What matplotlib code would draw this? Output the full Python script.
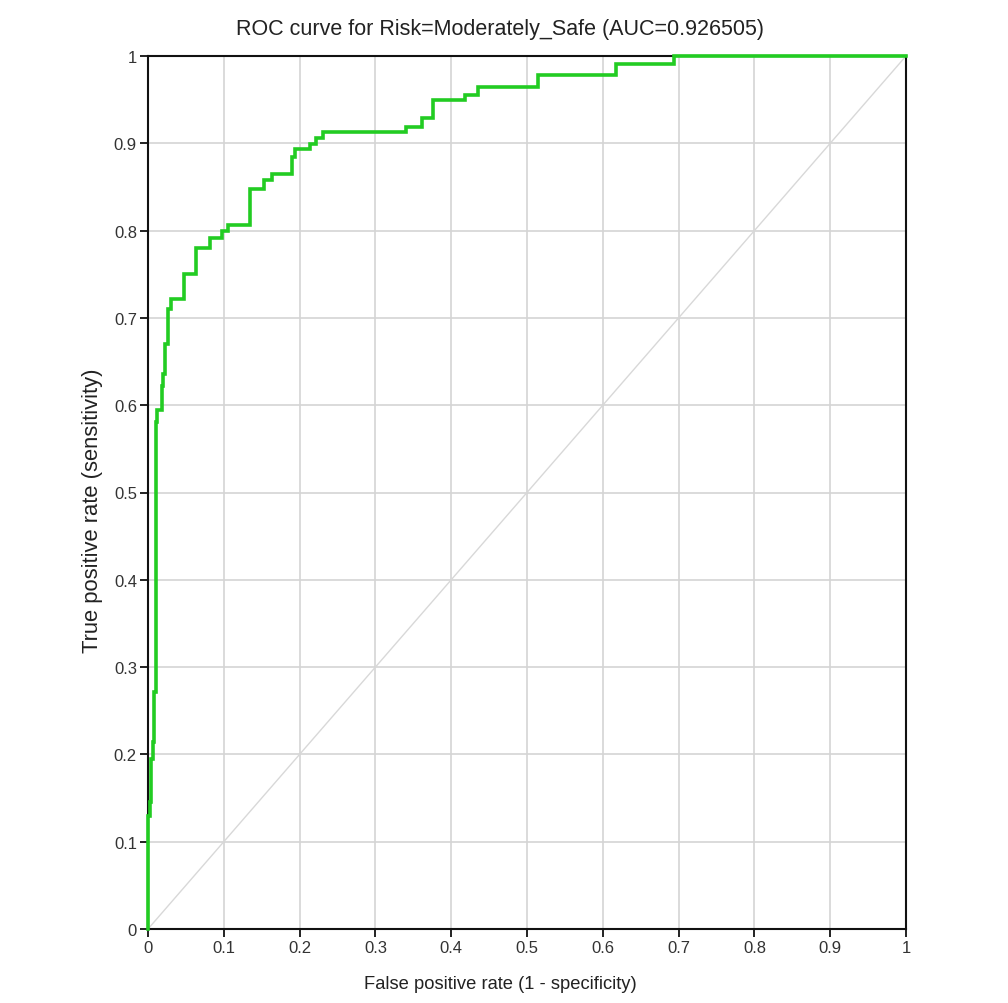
import matplotlib
matplotlib.use("Agg")
import matplotlib.pyplot as plt

plt.rcParams['font.family'] = ['Liberation Sans', 'DejaVu Sans']

# ROC step points (steps-post): false positive rate and true positive rate
fpr = [0, 0, 0.002, 0.004, 0.006, 0.008, 0.010, 0.012, 0.018, 0.020, 0.023, 0.027, 0.031,
       0.048, 0.063, 0.082, 0.097, 0.105, 0.135, 0.153, 0.163, 0.190, 0.194, 0.214, 0.222, 0.231,
       0.341, 0.361, 0.376, 0.418, 0.435, 0.514, 0.618, 0.694, 1.0]
tpr = [0, 0.13, 0.145, 0.195, 0.214, 0.271, 0.581, 0.595, 0.622, 0.636, 0.670, 0.710, 0.722,
       0.750, 0.780, 0.792, 0.799, 0.806, 0.848, 0.858, 0.865, 0.884, 0.893, 0.899, 0.906, 0.913,
       0.919, 0.929, 0.950, 0.955, 0.964, 0.978, 0.991, 1.0, 1.0]

ticks = [0, 0.1, 0.2, 0.3, 0.4, 0.5, 0.6, 0.7, 0.8, 0.9, 1]
tick_labels = ["0", "0.1", "0.2", "0.3", "0.4", "0.5", "0.6", "0.7", "0.8", "0.9", "1"]

title = "ROC curve for Risk=Moderately_Safe (AUC=0.926505)"
xlabel = "False positive rate (1 - specificity)"
ylabel = "True positive rate (sensitivity)"

W, H = 1008, 1004
fig = plt.figure(figsize=(W/100, H/100), dpi=100)
ax = fig.add_axes([148/W, 1-930/H, (906-148)/W, (930-57)/H])

ax.set_xlim(0, 1)
ax.set_ylim(0, 1)
ax.set_xticks(ticks)
ax.set_yticks(ticks)
ax.set_xticklabels(tick_labels)
ax.set_yticklabels(tick_labels)
ax.grid(True, color='#d4d4d4', linewidth=1.2)
ax.set_axisbelow(True)

ax.plot([0, 1], [0, 1], color='#d8d8d8', linewidth=1.0, zorder=2)
ax.plot(fpr, tpr, drawstyle='steps-post', color='#22cc22', linewidth=2.6,
        zorder=5, clip_on=False, solid_joinstyle='miter')

for s in ax.spines.values():
    s.set_color('#111111')
    s.set_linewidth(1.5)

ax.tick_params(axis='both', direction='out', length=6, width=1.3, color='#111111',
               labelsize=12, labelcolor='#333333', pad=2)
ax.tick_params(top=False, right=False)

fig.text(500/W, 1-30/H, title, fontsize=15.5, color='#222222', ha='center', va='center')
fig.text(500/W, 1-985/H, xlabel, fontsize=13.2, color='#222222', ha='center', va='center')
fig.text(93/W, 1-511/H, ylabel, fontsize=15.8, color='#222222', ha='center', va='center',
         rotation=90)

fig.savefig("out.png", dpi=100, facecolor='white')
